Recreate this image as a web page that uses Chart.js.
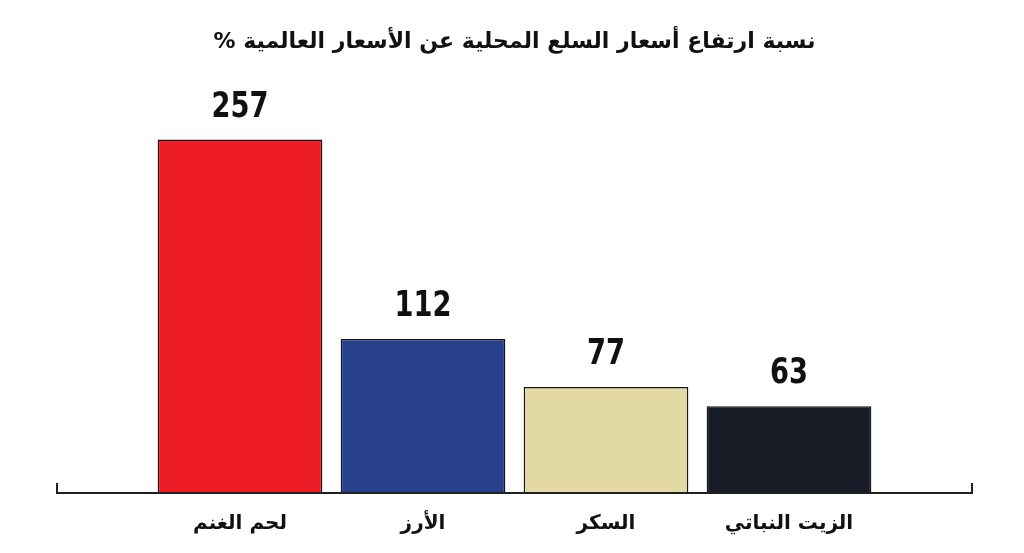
<!DOCTYPE html>
<html lang="ar">
<head>
<meta charset="utf-8">
<script src="https://cdn.jsdelivr.net/npm/chart.js@4.4.0/dist/chart.umd.min.js"></script>
<style>
  html, body { margin: 0; padding: 0; background: #fff; }
  #wrap { width: 1024px; height: 553px; }
</style>
</head>
<body>
<div id="wrap"><canvas id="chart" dir="rtl"></canvas></div>
<script>
// data
const titleText = "نسبة ارتفاع أسعار السلع المحلية عن الأسعار العالمية %";
const categories = ["لحم الغنم", "الأرز", "السكر", "الزيت النباتي"];
const values = [257, 112, 77, 63];
const barColors = ["#ED1C24", "#27408E", "#E3D9A5", "#171B26"];

// value labels above bars + baseline with end ticks
const barExtras = {
    id: "barExtras",
    afterDatasetsDraw(chart) {
        const ctx = chart.ctx;
        const meta = chart.getDatasetMeta(0);
        ctx.save();
        ctx.fillStyle = "#111";
        ctx.font = "bold 35px 'DejaVu Sans', sans-serif";
        ctx.textAlign = "center";
        ctx.textBaseline = "alphabetic";
        meta.data.forEach((bar, i) => {
            ctx.save();
            ctx.translate(bar.x, bar.y - 23);
            ctx.scale(0.78, 1);   // narrow look like the original
            ctx.fillText(String(values[i]), 0, 0);
            ctx.restore();
        });
        // axis line
        const area = chart.chartArea;
        const y0 = chart.scales.y.getPixelForValue(0);
        ctx.strokeStyle = "#222";
        ctx.lineWidth = 2;
        ctx.beginPath();
        ctx.moveTo(area.left, y0 - 10);
        ctx.lineTo(area.left, y0);
        ctx.lineTo(area.right, y0);
        ctx.lineTo(area.right, y0 - 10);
        ctx.stroke();
        ctx.restore();
    }
};

new Chart(document.getElementById("chart"), {
    type: "bar",
    data: {
        datasets: [{
            data: values.map((v, i) => ({ x: i, y: v })),
            backgroundColor: barColors,
            borderColor: "#151515",
            borderWidth: 1.5,
            barPercentage: 0.9,
            categoryPercentage: 1
        }]
    },
    options: {
        responsive: true,
        maintainAspectRatio: false,
        animation: false,
        layout: { padding: { left: 57, right: 52, top: 0, bottom: 6 } },
        plugins: {
            legend: { display: false },
            tooltip: { enabled: false },
            title: {
                display: true,
                text: titleText,
                color: "#111",
                font: { family: "'DejaVu Sans'", size: 22, weight: "bold" },
                padding: { top: 29, bottom: 25 }
            }
        },
        scales: {
            x: {
                type: "linear",
                min: -1,
                max: 4,
                offset: false,
                border: { display: false },
                grid: { display: false },
                ticks: {
                    stepSize: 1,
                    autoSkip: false,
                    maxRotation: 0,
                    padding: 11,
                    color: "#111",
                    font: { family: "'DejaVu Sans'", size: 20, weight: "bold" },
                    callback: v => (v >= 0 && v < categories.length) ? categories[v] : ""
                }
            },
            y: {
                display: false,
                min: 0,
                max: 300
            }
        }
    },
    plugins: [barExtras]
});
</script>
</body>
</html>
